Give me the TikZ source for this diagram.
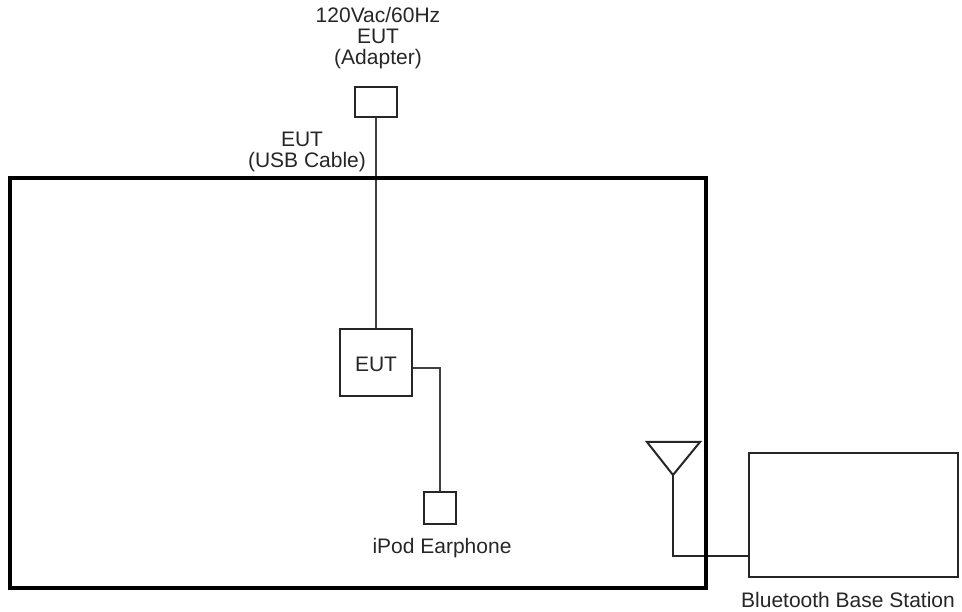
\documentclass[tikz,border=0pt]{standalone}
\usepackage{fontspec}
\setmainfont{Liberation Sans}
\begin{document}
\begin{tikzpicture}[x=1pt,y=-1pt,
  lbl/.style={font=\fontsize{21}{21}\selectfont, inner sep=0pt, anchor=base, text=black!85},
  box/.style={draw=black!85, line width=2pt, fill=white, inner sep=0pt},
  wire/.style={draw=black!75, line width=2pt},
  roomline/.style={draw=black, line width=4pt}]
\useasboundingbox (0,0) rectangle (962,612);
% room (outline drawn last)
\node[minimum width=696pt, minimum height=410pt, inner sep=0pt] (room) at (358,383) {};
% antenna and wires
\coordinate (ant) at (673,475);
\coordinate (antL) at (647,442);
\coordinate (antR) at (700,442);
\coordinate (antb) at (673,556);
% adapter
\node[box, minimum width=42pt, minimum height=30pt] (adapter) at (376,102) {};
% EUT
\node[box, minimum width=72pt, minimum height=67pt] (eut) at (376,362.5) {};
\node[lbl] (euttext) at (376,372) {EUT};
% earphone
\node[box, minimum width=32pt, minimum height=32pt] (ear) at (440,508) {};
% base station
\node[box, minimum width=209pt, minimum height=124pt] (bs) at (853.5,515) {};
% labels
\node[lbl] (l1) at (378,23) {120Vac/60Hz};
\node[lbl] (l2) at (378,44) {EUT};
\node[lbl] (l3) at (378,65) {(Adapter)};
\node[lbl] (l4) at (302,147) {EUT};
\node[lbl] (l5) at (307,168) {(USB Cable)};
\node[lbl] (l6) at (442,553) {iPod Earphone};
\node[lbl] (l7) at (848,607) {Bluetooth Base Station};
% wires
\draw[wire] (adapter.south) -- (eut.north);
\coordinate (eutout) at ([yshift=-5.5pt]eut.east);
\draw[wire] (eutout) -| (ear.north);
\draw[draw=black!85, line width=2pt, line join=miter] (antL) -- (antR) -- (ant) -- cycle;
\draw[draw=black!85, line width=2pt] (ant) -- (antb) -- (antb -| bs.west);
% room outline
\draw[roomline] (room.north west) rectangle (room.south east);
\end{tikzpicture}
\end{document}
